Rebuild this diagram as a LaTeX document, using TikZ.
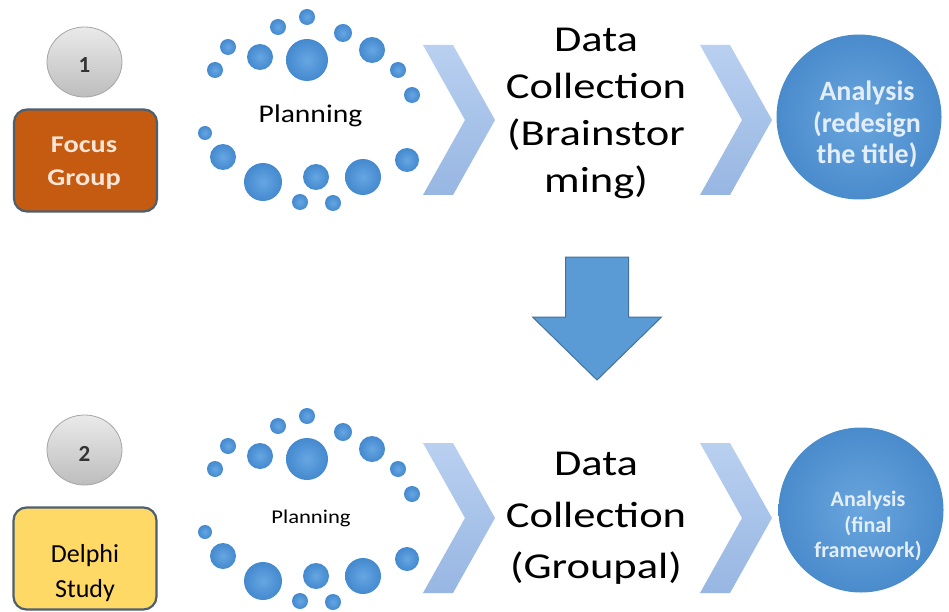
\documentclass[tikz,border=0pt]{standalone}
\usepackage{fontspec}
\setmainfont{Carlito}
\newfontfamily\fdc[FakeStretch=1.22]{Carlito}
\newfontfamily\fpl[FakeStretch=1.16]{Carlito}
\newfontfamily\ffg[FakeStretch=1.18]{Carlito}
\usetikzlibrary{shapes.geometric}
\definecolor{dotin}{HTML}{66A6E2}
\definecolor{dotout}{HTML}{4489CF}
\definecolor{chevtop}{HTML}{B9D0F0}
\definecolor{chevbot}{HTML}{97B6E2}
\definecolor{bigin}{HTML}{6AA6DE}
\definecolor{bigout}{HTML}{4A8BCC}
\definecolor{arrowfill}{HTML}{5B9BD5}
\definecolor{arrowline}{HTML}{41719C}
\definecolor{orangebox}{HTML}{C55A11}
\definecolor{yellowbox}{HTML}{FFD966}
\definecolor{boxline}{HTML}{4E5F6E}
\definecolor{peach}{HTML}{FBE5D6}
\definecolor{palebl}{HTML}{E3EEF9}
\definecolor{numtxt}{HTML}{333333}
\definecolor{numtop}{HTML}{EAEAEA}
\definecolor{numbot}{HTML}{BDBDBD}
\definecolor{numline}{HTML}{A6A6A6}
\tikzset{
  numcirc/.style={ellipse, minimum width=75pt, minimum height=70pt, inner sep=0pt,
    top color=numtop, bottom color=numbot, draw=numline, line width=0.8pt,
    text=numtxt, text height=22pt, text depth=0pt, font=\fontsize{23}{27}\selectfont\bfseries},
  methbox/.style={rectangle, rounded corners=13pt, minimum width=143pt, minimum height=102pt,
    draw=boxline, line width=2.2pt, inner sep=0pt},
  bigcirc/.style={circle, minimum size=165pt, inner sep=0pt, shading=radial,
    inner color=bigin, outer color=bigout},
  chevron/.style={top color=chevtop, bottom color=chevbot},
  plain/.style={inner sep=0pt, align=center},
  dot/.style={inner color=dotin, outer color=dotout}
}
\begin{document}
\begin{tikzpicture}[x=1pt,y=-1pt]
\useasboundingbox (0,0) rectangle (949,612);
\fill[white] (0,0) rectangle (949,612);

% ---------- row 1 ----------
\node[numcirc] (n1) at (84.5,62) {1};
\node[methbox, fill=orangebox] (fg) at (85.5,160.5) {};
\node[plain, text=peach, font=\ffg\fontsize{24}{33}\selectfont\bfseries] (fgt) at (84,163.3) {Focus\\Group};

\foreach \x/\y/\r in {215/70/8,228/47/8,260/57/13,278/27/8,307/60/21,307/17/8,343/33/9,372/50/13,398/70/8,412/95/8,205/133/7,223/157/13,263/182/19,300/202/8,316/177/13,333/203/8,363/177/18,407/160/12}
  \shade[dot] (\x,\y) circle (\r);
\node[inner sep=0pt, anchor=base, font=\fpl\fontsize{25.5}{30}\selectfont] (pl1) at (310.5,123) {Planning};

\shade[chevron] (423,45) -- (453,45) -- (495,120) -- (453,195) -- (423,195) -- (465,120) -- cycle;
\node[plain, font=\fdc\fontsize{36.5}{47}\selectfont] (dc1) at (596,113.5) {Data\\Collection\\(Brainstor\\ming)};
\shade[chevron] (700,45) -- (730,45) -- (772,120) -- (730,195) -- (700,195) -- (742,120) -- cycle;

\node[bigcirc] (an1) at (859,117) {};
\node[plain, text=palebl, font=\fontsize{28}{31.5}\selectfont\bfseries] (an1t) at (867,124.4) {Analysis\\(redesign\\the title)};

% ---------- down arrow ----------
\filldraw[fill=arrowfill, draw=arrowline, line width=1pt]
  (565.5,257) -- (628.5,257) -- (628.5,317) -- (661.5,317) -- (597,380) -- (532.5,317) -- (565.5,317) -- cycle;

% ---------- row 2 ----------
\node[numcirc] (n2) at (84.5,450) {2};
\node[methbox, fill=yellowbox] (ds) at (85,558.5) {};
\node[plain, text=black, font=\fontsize{26}{35}\selectfont] (dst) at (85,572.9) {Delphi\\Study};

\foreach \x/\y/\r in {215/70/8,228/47/8,260/57/13,278/27/8,307/60/21,307/17/8,343/33/9,372/50/13,398/70/8,412/95/8,205/133/7,223/157/13,263/182/19,300/202/8,316/177/13,333/203/8,363/177/18,407/160/12}
  \shade[dot] (\x,\y+399) circle (\r);
\node[inner sep=0pt, anchor=base, font=\fpl\fontsize{19.5}{24}\selectfont] (pl2) at (311,523) {Planning};

\shade[chevron] (423,443) -- (453,443) -- (495,518) -- (453,593) -- (423,593) -- (465,518) -- cycle;
\node[plain, font=\fdc\fontsize{36.5}{51.5}\selectfont] (dc2) at (596,518.6) {Data\\Collection\\(Groupal)};
\shade[chevron] (700,443) -- (730,443) -- (772,518) -- (730,593) -- (700,593) -- (742,518) -- cycle;

\node[bigcirc] (an2) at (861,510) {};
\node[plain, text=palebl, font=\fontsize{22}{25.5}\selectfont\bfseries] (an2t) at (868,526) {Analysis\\(final\\framework)};
\end{tikzpicture}
\end{document}
